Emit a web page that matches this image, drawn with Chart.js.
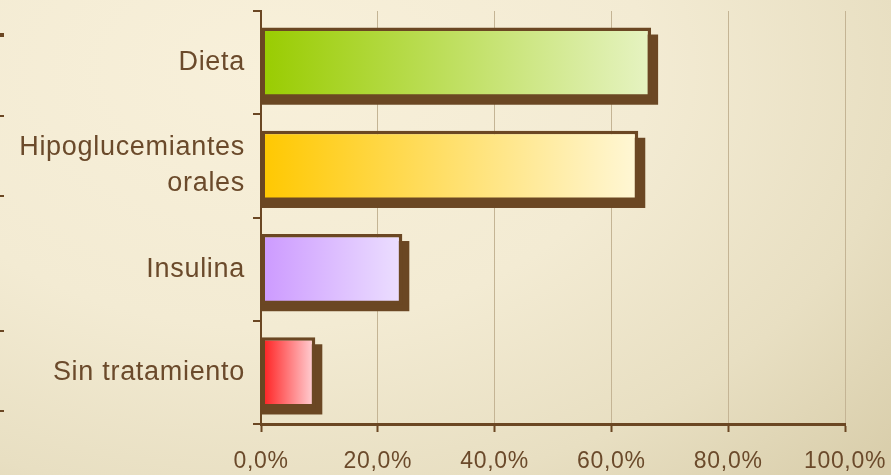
<!DOCTYPE html>
<html>
<head>
<meta charset="utf-8">
<script src="https://cdn.jsdelivr.net/npm/chart.js@4"></script>
<style>
  html, body { margin: 0; padding: 0; }
  body {
    width: 891px; height: 475px; overflow: hidden;
    background: radial-gradient(ellipse 95% 120% at 30% 15%, #f8f0da 0%, #f3ebd3 45%, #e8dfc2 75%, #d9ceab 100%);
  }
  #wrap { position: relative; width: 891px; height: 475px; }
</style>
</head>
<body>
<div id="wrap"><canvas id="c" width="891" height="475"></canvas></div>
<script>
const categories = ["Dieta", ["Hipoglucemiantes", "orales"], "Insulina", "Sin tratamiento"];
const values = [66.8, 64.6, 24.2, 9.3];
const xTicks = [0, 20, 40, 60, 80, 100];
const startColors = ["#99cc00", "#ffc800", "#cc99ff", "#ff1a1a"];
const endColors = ["#e6f3c2", "#fff7d6", "#ecdfff", "#ffd6da"];

const BROWN = "#6b4723";
const TEXT = "#6b4a2b";

function barGradient(ctx) {
  const chart = ctx.chart;
  const x = chart.scales.x;
  if (!chart.chartArea || !x) return startColors[ctx.dataIndex];
  const x0 = x.getPixelForValue(0);
  const x1 = x.getPixelForValue(values[ctx.dataIndex]);
  const g = chart.ctx.createLinearGradient(x0, 0, x1, 0);
  g.addColorStop(0, startColors[ctx.dataIndex]);
  g.addColorStop(1, endColors[ctx.dataIndex]);
  return g;
}

function setSpacing(chart, v) {
  if ('letterSpacing' in chart.ctx) chart.ctx.letterSpacing = v;
}
const spacingPlugin = {
  id: 'spacing',
  beforeUpdate(chart) { setSpacing(chart, '0.7px'); },
  beforeLayout(chart) { setSpacing(chart, '0.7px'); },
  beforeDraw(chart) { setSpacing(chart, '0.7px'); }
};

const shadowPlugin = {
  id: 'barShadow',
  beforeDatasetsDraw(chart) {
    const c = chart.ctx;
    const meta = chart.getDatasetMeta(0);
    c.save();
    c.fillStyle = BROWN;
    meta.data.forEach(el => {
      const p = el.getProps(['x', 'y', 'base', 'height'], true);
      const top = p.y - p.height / 2;
      c.fillRect(p.base, top + 7, (p.x + 7) - p.base, p.height);
    });
    c.restore();
  }
};

const edgeMarks = {
  id: 'edgeMarks',
  afterDraw(chart) {
    const c = chart.ctx;
    c.save();
    c.fillStyle = BROWN;
    c.fillRect(0, 33, 4, 4);
    [115, 195, 330, 410].forEach(yy => c.fillRect(0, yy, 4, 2));
    c.restore();
  }
};

new Chart(document.getElementById('c'), {
  type: 'bar',
  data: {
    labels: categories,
    datasets: [{
      data: values,
      backgroundColor: barGradient,
      borderColor: BROWN,
      borderWidth: 3.5,
      borderSkipped: false,
      barPercentage: 0.68,
      categoryPercentage: 1.0
    }]
  },
  plugins: [spacingPlugin, shadowPlugin, edgeMarks],
  options: {
    indexAxis: 'y',
    responsive: false,
    animation: false,
    devicePixelRatio: 1,
    layout: { padding: { top: 11, right: 46, left: 0, bottom: 0 } },
    plugins: { legend: { display: false }, tooltip: { enabled: false } },
    scales: {
      x: {
        min: 0, max: 100,
        afterBuildTicks(scale) { scale.ticks = xTicks.map(v => ({ value: v })); },
        afterFit(scale) {
          scale.height = 51;
          scale.paddingLeft = 0; scale.paddingRight = 0;
          scale.paddingTop = 0; scale.paddingBottom = 0;
        },
        grid: {
          color: '#c4b494',
          lineWidth: 1,
          tickColor: BROWN,
          tickWidth: 2,
          tickLength: 8
        },
        border: { display: true, color: BROWN, width: 3 },
        ticks: {
          color: TEXT,
          font: { family: 'Liberation Sans, Arial, sans-serif', size: 23 },
          padding: 16,
          callback: v => v.toFixed(1).replace('.', ',') + '%'
        }
      },
      y: {
        afterFit(scale) {
          scale.width = 261;
          scale.paddingTop = 0; scale.paddingBottom = 0;
          scale.paddingLeft = 0; scale.paddingRight = 0;
        },
        grid: {
          offset: true,
          drawOnChartArea: false,
          color: BROWN,
          tickColor: BROWN,
          lineWidth: 2,
          tickLength: 8
        },
        border: { display: true, color: BROWN, width: 2 },
        ticks: {
          color: TEXT,
          font: { family: 'Liberation Sans, Arial, sans-serif', size: 27, lineHeight: 1.33 },
          padding: 8
        }
      }
    }
  }
});
</script>
</body>
</html>
